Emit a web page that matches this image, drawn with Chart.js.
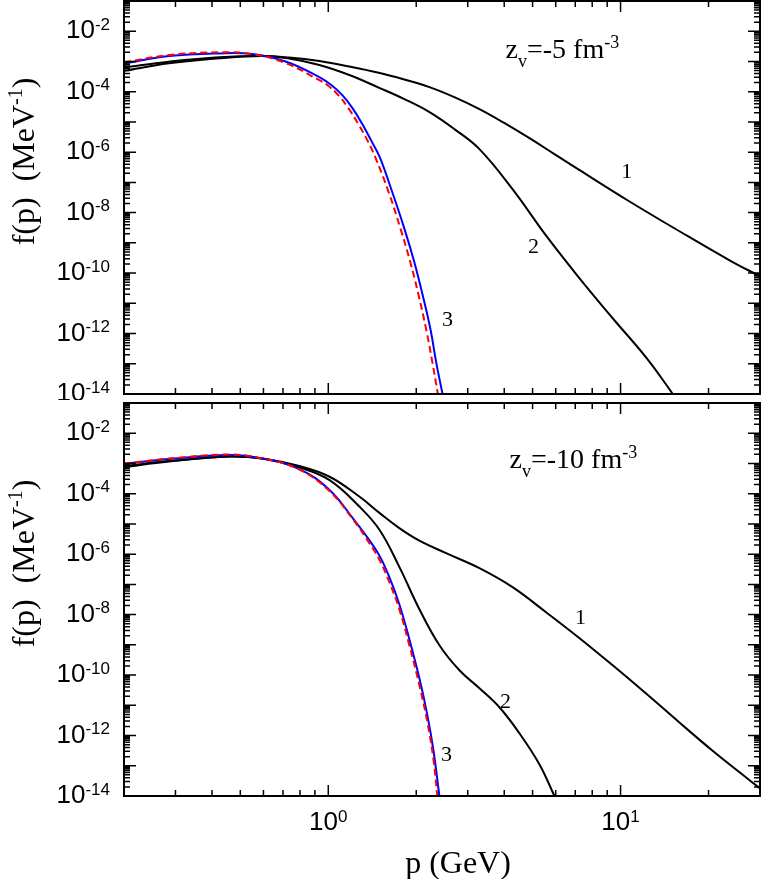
<!DOCTYPE html>
<html>
<head>
<meta charset="utf-8">
<script src="https://cdn.jsdelivr.net/npm/chart.js@4.4.1/dist/chart.umd.min.js"></script>
<style>
  html, body { margin: 0; padding: 0; background: #fff; }
  #wrap { position: relative; width: 762px; height: 879px; }
  .panel { position: absolute; left: 0; width: 762px; }
  #top { top: 0; height: 400px; }
  #bot { top: 400px; height: 479px; }
</style>
</head>
<body>
<div id="wrap">
  <div class="panel" id="top"><canvas id="chartTop" width="762" height="400"></canvas></div>
  <div class="panel" id="bot"><canvas id="chartBot" width="762" height="479"></canvas></div>
</div>
<script>
// p in GeV, f(p) in MeV^-1

// upper panel, z_v = -5 fm^-3
const topP1 = [0.2, 0.285, 0.423, 0.594, 0.735, 0.932, 1.18, 1.50, 1.82, 2.22, 2.70, 3.29, 4.01, 4.88, 5.94, 7.24, 10.7, 15.9, 23.6, 30];
const topF1 = [4.9e-4, 8.65e-4, 1.27e-3, 1.51e-3, 1.35e-3, 1.03e-3, 6.8e-4, 4.13e-4, 2.52e-4, 1.42e-4, 6.6e-5, 2.65e-5, 9.1e-6, 2.9e-6, 8.6e-7, 2.54e-7, 2.38e-8, 2.42e-9, 2.65e-10, 7.8e-11];
const topP2 = [0.2, 0.285, 0.423, 0.594, 0.735, 0.932, 1.18, 1.50, 1.82, 2.22, 2.70, 3.29, 4.27, 5.58, 7.24, 9.40, 12.3, 15.1];
const topF2 = [6.4e-4, 9.8e-4, 1.37e-3, 1.51e-3, 1.25e-3, 7.6e-4, 3.55e-4, 1.32e-4, 5.7e-5, 2.11e-5, 5.8e-6, 1.26e-6, 5.96e-8, 1.66e-9, 6.7e-11, 3.2e-12, 1.51e-13, 1.0e-14];
const topP3 = [0.2, 0.285, 0.423, 0.549, 0.718, 0.932, 1.024, 1.117, 1.21, 1.307, 1.40, 1.50, 1.656, 1.82, 1.97, 2.10, 2.24, 2.34, 2.46];
const topF3 = [8.65e-4, 1.51e-3, 1.85e-3, 1.76e-3, 9.8e-4, 3.04e-4, 1.66e-4, 7.7e-5, 2.86e-5, 8.5e-6, 2.5e-6, 6.8e-7, 4.7e-8, 3.0e-9, 2.28e-10, 1.99e-11, 1.28e-12, 1.11e-13, 1.0e-14];
const topPdash = [0.2, 0.285, 0.423, 0.549, 0.718, 0.932, 0.992, 1.082, 1.171, 1.267, 1.360, 1.448, 1.61, 1.765, 1.909, 2.033, 2.166, 2.271, 2.371];
const topFdash = [9.3e-4, 1.63e-3, 2.0e-3, 1.76e-3, 8.65e-4, 2.4e-4, 1.66e-4, 7.7e-5, 2.86e-5, 8.5e-6, 2.5e-6, 6.8e-7, 4.7e-8, 3.0e-9, 2.28e-10, 1.99e-11, 1.28e-12, 1.11e-13, 1.0e-14];

// lower panel, z_v = -10 fm^-3
const botP1 = [0.2, 0.285, 0.458, 0.594, 0.796, 1.01, 1.28, 1.50, 1.75, 2.05, 2.53, 3.29, 4.27, 5.56, 7.24, 9.40, 12.2, 15.9, 20.6, 26.9, 30];
const botF1 = [8.2e-4, 1.2e-3, 1.69e-3, 1.47e-3, 8.2e-4, 3.63e-4, 7.9e-5, 2.28e-5, 7.3e-6, 2.8e-6, 1.08e-6, 3.44e-7, 8.1e-8, 1.2e-8, 1.66e-9, 2.1e-10, 2.5e-11, 2.7e-12, 3.2e-13, 4.1e-14, 1.79e-14];
const botP2 = [0.2, 0.285, 0.458, 0.594, 0.796, 1.01, 1.28, 1.50, 1.75, 2.05, 2.40, 2.81, 3.29, 3.85, 4.51, 5.28, 5.94];
const botF2 = [7.6e-4, 1.16e-3, 1.69e-3, 1.47e-3, 7.4e-4, 2.82e-4, 3.68e-5, 6.2e-6, 3.8e-7, 1.51e-8, 9.7e-10, 1.44e-10, 3.66e-11, 8.6e-12, 1.18e-12, 1.11e-13, 1.0e-14];
const botP3 = [0.2, 0.285, 0.458, 0.594, 0.796, 1.01, 1.227, 1.382, 1.50, 1.618, 1.75, 1.89, 2.05, 2.18, 2.29, 2.40];
const botF3 = [9.55e-4, 1.40e-3, 1.90e-3, 1.47e-3, 6.5e-4, 1.32e-4, 1.34e-5, 2.91e-6, 8.6e-7, 1.73e-7, 2.21e-8, 1.66e-9, 7.8e-11, 5.0e-12, 3.2e-13, 1.0e-14];
const botPdash = [0.2, 0.285, 0.458, 0.594, 0.796, 1.01, 1.227, 1.382, 1.50, 1.618, 1.75, 1.89, 2.05, 2.18, 2.29, 2.36];
const botFdash = [9.9e-4, 1.45e-3, 1.97e-3, 1.47e-3, 6.3e-4, 1.22e-4, 1.24e-5, 2.31e-6, 6.3e-7, 1.18e-7, 1.51e-8, 1.05e-9, 4.6e-11, 2.95e-12, 1.63e-13, 1.0e-14];

// axes
const xMin = 0.2, xMax = 30;
const yMin = 1e-14, yMax = 1e-1;
const xTickExps = [0, 1];                           // labelled x decades
const yTickExps = [-2, -4, -6, -8, -10, -12, -14];  // labelled y decades

// curve numbers and z_v text, in data coords
const topCurveLabels = [['1', 10.5, 2.2e-7], ['2', 5.04, 7.1e-10], ['3', 2.56, 2.7e-12]];
const botCurveLabels = [['1', 7.3, 7.6e-9], ['2', 4.04, 1.26e-11], ['3', 2.54, 2.2e-13]];
const topZv = ['-5', 4.04, 1.27e-3];
const botZv = ['-10', 4.17, 6.9e-4];

const SANS = '"Liberation Sans", Arial, sans-serif';
const SERIF = '"Liberation Serif", "Times New Roman", serif';

function pts(px, fy) {
    return px.map((p, i) => ({ x: p, y: fy[i] }));
}

function drawPow(ctx, exp, x, y, align) {
    const base = '10', sup = String(exp);
    ctx.font = '26px ' + SANS;
    const wb = ctx.measureText(base).width;
    ctx.font = '17px ' + SANS;
    const ws = ctx.measureText(sup).width;
    const x0 = align === 'right' ? x - wb - ws : x - (wb + ws) / 2;
    ctx.textAlign = 'left';
    ctx.textBaseline = 'middle';
    ctx.font = '26px ' + SANS;
    ctx.fillText(base, x0, y);
    ctx.font = '17px ' + SANS;
    ctx.fillText(sup, x0 + wb, y - 6);
}

// runs of [text, fontSize, baselineShift]
function drawRuns(ctx, runs, x, y, align) {
    let total = 0;
    runs.forEach(r => { ctx.font = r[1] + 'px ' + SERIF; total += ctx.measureText(r[0]).width; });
    let cx = align === 'center' ? x - total / 2 : x;
    ctx.textAlign = 'left';
    runs.forEach(r => {
        ctx.font = r[1] + 'px ' + SERIF;
        ctx.fillText(r[0], cx, y + r[2]);
        cx += ctx.measureText(r[0]).width;
    });
}

// frame, inward ticks, labels and titles
const framePlugin = {
    id: 'frame',
    afterDatasetsDraw(chart, args, opts) {
        const { ctx, chartArea: a } = chart;
        const xs = chart.scales.x, ys = chart.scales.y;
        ctx.save();
        ctx.strokeStyle = '#000';
        ctx.fillStyle = '#000';

        ctx.lineWidth = 1.5;
        ctx.beginPath();
        for (let e = -1; e <= 1; e++) {
            for (let m = 1; m <= 9; m++) {
                const v = m * Math.pow(10, e);
                if (v < xMin * 0.999 || v > xMax * 1.001) continue;
                const px = xs.getPixelForValue(v);
                const len = m === 1 ? 11 : 6;
                ctx.moveTo(px, a.bottom); ctx.lineTo(px, a.bottom - len);
                ctx.moveTo(px, a.top); ctx.lineTo(px, a.top + len);
            }
        }
        for (let e = -14; e <= -1; e++) {
            for (let m = 1; m <= 9; m++) {
                const v = m * Math.pow(10, e);
                if (v > yMax * 1.001) continue;
                const py = ys.getPixelForValue(v);
                const len = m === 1 ? 12 : 6;
                ctx.moveTo(a.left, py); ctx.lineTo(a.left + len, py);
                ctx.moveTo(a.right, py); ctx.lineTo(a.right - len, py);
            }
        }
        ctx.stroke();

        ctx.lineWidth = 2;
        ctx.strokeRect(a.left, a.top, a.right - a.left, a.bottom - a.top);

        yTickExps.forEach(e => drawPow(ctx, e, a.left - 14, ys.getPixelForValue(Math.pow(10, e)), 'right'));
        if (opts.xLabels) {
            xTickExps.forEach(e => drawPow(ctx, e, xs.getPixelForValue(Math.pow(10, e)), a.bottom + 27, 'center'));
            ctx.textBaseline = 'middle';
            drawRuns(ctx, [['p (GeV)', 32, 0]], 458, a.bottom + 69, 'center');
        }

        // y title
        ctx.save();
        ctx.translate(26, (a.top + a.bottom) / 2 - 36);
        ctx.rotate(-Math.PI / 2);
        ctx.textBaseline = 'middle';
        drawRuns(ctx, [['f(p)  (MeV', 32, 0], ['-1', 20, -9], [')', 32, 0]], 0, 0, 'center');
        ctx.restore();

        // curve numbers
        ctx.textBaseline = 'middle';
        opts.curveLabels.forEach(l => {
            drawRuns(ctx, [[l[0], 22, 0]], xs.getPixelForValue(l[1]), ys.getPixelForValue(l[2]), 'center');
        });

        // z_v annotation
        const z = opts.zv;
        ctx.textBaseline = 'alphabetic';
        drawRuns(ctx, [['z', 28, 0], ['v', 18, 9], ['=' + z[0] + ' fm', 28, 0], ['-3', 18, -10]],
            xs.getPixelForValue(z[1]), ys.getPixelForValue(z[2]), 'left');
        ctx.restore();
    }
};

function makeDatasets(p1, f1, p2, f2, p3, f3, pd, fd) {
    const common = { pointRadius: 0, fill: false, tension: 0.4 };
    return [
        Object.assign({ label: 'dashed', data: pts(pd, fd), borderColor: '#ff0000', borderWidth: 2, borderDash: [7, 4] }, common),
        Object.assign({ label: '3', data: pts(p3, f3), borderColor: '#0000ff', borderWidth: 2 }, common),
        Object.assign({ label: '2', data: pts(p2, f2), borderColor: '#000000', borderWidth: 2 }, common),
        Object.assign({ label: '1', data: pts(p1, f1), borderColor: '#000000', borderWidth: 2 }, common)
    ];
}

function plotPanel(id, datasets, padding, frameOpts) {
    const ctx = document.getElementById(id).getContext('2d');
    return new Chart(ctx, {
        type: 'line',
        data: { datasets: datasets },
        options: {
            responsive: false,
            animation: false,
            layout: { padding: padding },
            scales: {
                x: { type: 'logarithmic', min: xMin, max: xMax, display: false },
                y: { type: 'logarithmic', min: yMin, max: yMax, display: false }
            },
            plugins: {
                legend: { display: false },
                tooltip: { enabled: false },
                frame: frameOpts
            }
        },
        plugins: [framePlugin]
    });
}

plotPanel('chartTop',
    makeDatasets(topP1, topF1, topP2, topF2, topP3, topF3, topPdash, topFdash),
    { left: 124, right: 2, top: 1, bottom: 6 },
    { xLabels: false, curveLabels: topCurveLabels, zv: topZv });

plotPanel('chartBot',
    makeDatasets(botP1, botF1, botP2, botF2, botP3, botF3, botPdash, botFdash),
    { left: 124, right: 2, top: 3, bottom: 83 },
    { xLabels: true, curveLabels: botCurveLabels, zv: botZv });
</script>
</body>
</html>
